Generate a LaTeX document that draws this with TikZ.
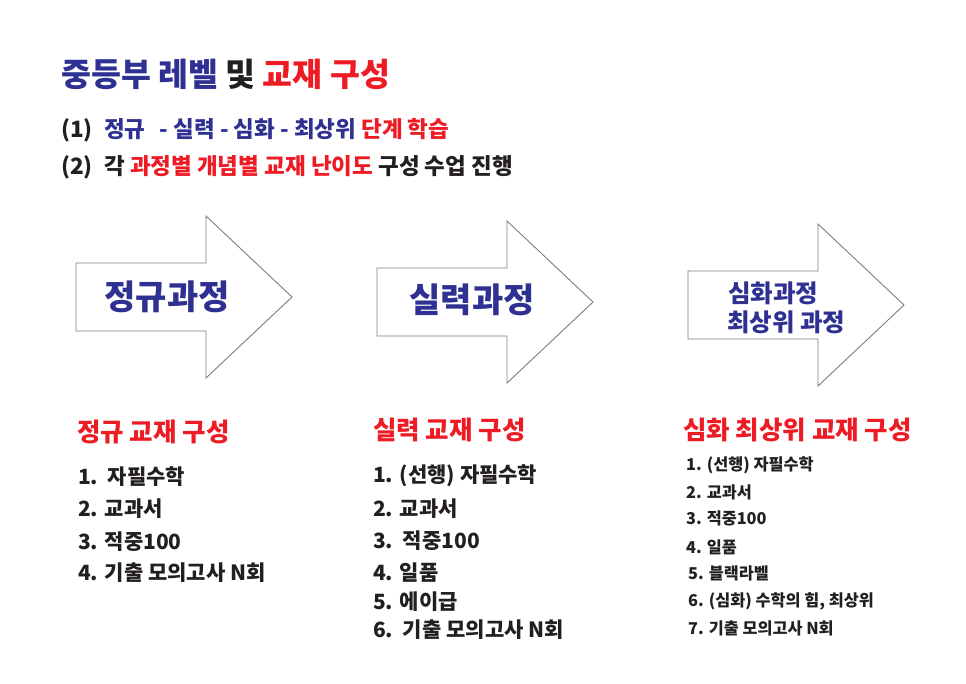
\documentclass[tikz,border=0pt]{standalone}
\usepackage{fontspec}
\setmainfont{Noto Sans CJK KR}
\definecolor{kblue}{RGB}{46,49,146}
\definecolor{kred}{RGB}{237,28,36}
\definecolor{kblack}{RGB}{35,31,32}
\definecolor{kline}{RGB}{125,125,125}
\tikzset{
  arrowshape/.style={draw=kline, line width=0.9pt, fill=white, line join=miter},
  headline/.style={anchor=west, inner sep=0pt, font=\bfseries\fontsize{32.5}{38}\selectfont},
  subline/.style={anchor=west, inner sep=0pt, text=kblack, font=\bfseries\fontsize{22.5}{27}\selectfont},
  arrowtext/.style={anchor=center, inner sep=0pt, text=kblue, font=\bfseries\fontsize{34}{40}\selectfont},
  arrowsmall/.style={anchor=west, inner sep=0pt, text=kblue, font=\bfseries\fontsize{24.5}{29}\selectfont},
  colhead/.style={anchor=west, inner sep=0pt, text=kred, font=\bfseries\fontsize{25.5}{30}\selectfont},
  item/.style={anchor=west, inner sep=0pt, text=kblack, font=\bfseries\fontsize{21}{25}\selectfont},
  smallitem/.style={anchor=west, inner sep=0pt, text=kblack, font=\bfseries\fontsize{16.3}{19}\selectfont}
}
\begin{document}
\begin{tikzpicture}[x=1pt, y=-1pt]
\useasboundingbox (0,0) rectangle (966,683);
%% title block
\node[headline] (title) at (61,74) {\color{kblue}중등부 레벨 \color{kblack}및 \color{kred}교재 구성};
\node[subline] (steps) at (61,130) {(1)\hspace{0.5em}\color{kblue}정규\hspace{0.4em} - 실력 - 심화 - 최상위 \color{kred}단계 학습};
\node[subline] (plan) at (61,167) {(2)\hspace{0.5em}각 \color{kred}과정별 개념별 교재 난이도 \color{kblack}구성 수업 진행};
%
%% arrows (left edge / centre line)
\foreach\name/\x/\y in {reg/76/297, adv/377/302, top/688/305}
  {
  \draw[arrowshape] (\x,\y-34) -- ++(130,0) -- ++(0,-47) -- (\x+216,\y)
    -- (\x+130,\y+81) -- ++(0,-47) -- (\x,\y+34) -- cycle;
  }
\node[arrowtext] (regtext) at (167,297) {정규과정};
\node[arrowtext] (advtext) at (472,300) {실력과정};
\node[arrowsmall] (toptext1) at (728,293) {심화과정};
\node[arrowsmall] (toptext2) at (727,322) {최상위 과정};
%
%% book lists
\node[colhead] (reghead) at (77,432) {정규 교재 구성};
\foreach\i/\t/\yy in {1/{1.\ \ 자필수학}/477, 2/{2. 교과서}/509, 3/{3. 적중100}/542, 4/{4. 기출 모의고사 N회}/573}
  \node[item] (reg\i) at (78,\yy) {\t};
%
\node[colhead] (advhead) at (373,430) {실력 교재 구성};
\foreach\i/\t/\yy in {1/{1. (선행) 자필수학}/476, 2/{2. 교과서}/509, 3/{3.\ \ 적중100}/541,
    4/{4. 일품}/573, 5/{5. 에이급}/602, 6/{6.\ \ 기출 모의고사 N회}/630}
  \node[item] (adv\i) at (373,\yy) {\t};
%
\node[colhead] (tophead) at (683,430) {심화 최상위 교재 구성};
\foreach\i/\t/\xx/\yy in {1/{1. (선행) 자필수학}/686/465, 2/{2. 교과서}/686/492, 3/{3. 적중100}/686/518,
    4/{4. 일품}/686/547, 5/{5. 블랙라벨}/688/573, 6/{6. (심화) 수학의 힘, 최상위}/688/601,
    7/{7. 기출 모의고사 N회}/688/628}
  \node[smallitem] (top\i) at (\xx,\yy) {\t};
\end{tikzpicture}
\end{document}
